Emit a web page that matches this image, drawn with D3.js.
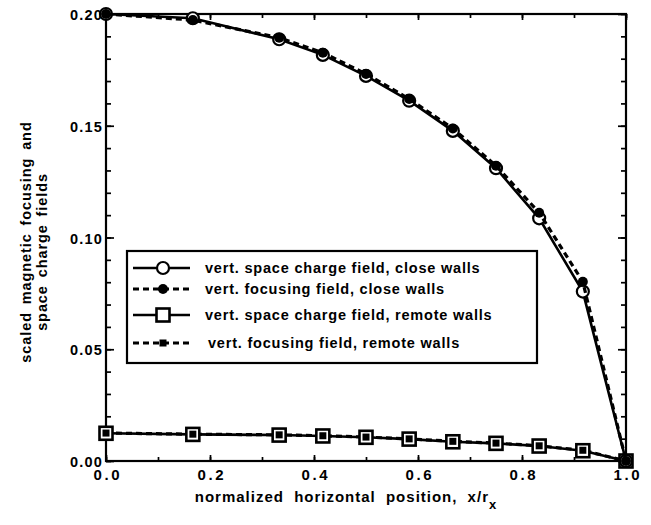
<!DOCTYPE html>
<html>
<head>
<meta charset="utf-8">
<script src="https://cdn.jsdelivr.net/npm/d3@7"></script>
<style>
  html, body { margin: 0; padding: 0; background: #fff; }
  svg { display: block; }
  text { font-family: "Liberation Sans", Arial, Helvetica, sans-serif; font-weight: bold; fill: #000; }
</style>
</head>
<body>
<svg id="chart" width="651" height="525"></svg>
<script>
// Normalized horizontal position x/r_x of each computed point
const xPositions = [0, 0.167, 0.333, 0.417, 0.5, 0.583, 0.667, 0.75, 0.833, 0.917, 1.0];

// Scaled field values
const spaceChargeClose = [0.200, 0.1981, 0.1887, 0.1817, 0.1723, 0.1612, 0.1477, 0.1310, 0.1086, 0.0758, 0];
const focusingClose    = [0.200, 0.1973, 0.1894, 0.1827, 0.1732, 0.1620, 0.1488, 0.1321, 0.1111, 0.0802, 0];
const spaceChargeRemote = [0.0124, 0.0119, 0.0116, 0.0112, 0.0106, 0.0098, 0.0086, 0.0079, 0.0067, 0.0046, 0];
const focusingRemote    = [0.0125, 0.0120, 0.0117, 0.0113, 0.0107, 0.0099, 0.0088, 0.0080, 0.0068, 0.0048, 0];

// Axis ticks
const xTickLabels = [0, 0.2, 0.4, 0.6, 0.8, 1.0];
const yTickLabels = [0, 0.05, 0.10, 0.15, 0.20];

const legendLabels = [
  "vert. space charge field, close walls",
  "vert. focusing field, close walls",
  "vert. space charge field, remote walls",
  "vert. focusing field, remote walls"
];

const svg = d3.select("#chart");
const plotLeft = 106, plotRight = 626, plotTop = 14, plotBottom = 461;

const x = d3.scaleLinear().domain([0, 1]).range([plotLeft, plotRight]);
const y = d3.scaleLinear().domain([0, 0.2]).range([plotBottom, plotTop]);

// Inward ticks on all four sides
function tickAxis(axisFn, scale, values, size, transform) {
  const g = svg.append("g").attr("transform", transform)
    .call(axisFn(scale).tickValues(values).tickSize(size).tickFormat(""));
  g.select(".domain").remove();
  g.selectAll("line").attr("stroke", "#000").attr("stroke-width", 1.7);
}
const yMinor = d3.range(0, 21).map(i => i / 100);
const xMinor = d3.range(0, 11).map(i => i / 10);
tickAxis(d3.axisLeft, y, yMinor, -5, `translate(${plotLeft},0)`);
tickAxis(d3.axisLeft, y, yTickLabels, -8, `translate(${plotLeft},0)`);
tickAxis(d3.axisRight, y, yMinor, -5, `translate(${plotRight},0)`);
tickAxis(d3.axisRight, y, yTickLabels, -8, `translate(${plotRight},0)`);
tickAxis(d3.axisBottom, x, xMinor, -4, `translate(0,${plotBottom})`);
tickAxis(d3.axisBottom, x, xTickLabels, -6, `translate(0,${plotBottom})`);
tickAxis(d3.axisTop, x, xMinor, -4, `translate(0,${plotTop})`);
tickAxis(d3.axisTop, x, xTickLabels, -6, `translate(0,${plotTop})`);

// Plot frame
svg.append("rect")
  .attr("x", plotLeft).attr("y", plotTop)
  .attr("width", plotRight - plotLeft).attr("height", plotBottom - plotTop)
  .attr("fill", "none").attr("stroke", "#000").attr("stroke-width", 2.2);

// Tick labels
const yLab = svg.append("g").attr("transform", `translate(${plotLeft - 3},1)`)
  .call(d3.axisLeft(y).tickValues(yTickLabels).tickSize(0).tickPadding(0).tickFormat(d3.format(".2f")));
yLab.select(".domain").remove();
yLab.selectAll("text").attr("font-size", 14.5).attr("letter-spacing", 1.2)
  .attr("font-family", "Liberation Sans, Arial, sans-serif").attr("font-weight", "bold");

const xLab = svg.append("g").attr("transform", `translate(0,${plotBottom + 8})`)
  .call(d3.axisBottom(x).tickValues(xTickLabels).tickSize(0).tickPadding(0).tickFormat(d3.format(".1f")));
xLab.select(".domain").remove();
xLab.selectAll("text").attr("font-size", 15).attr("letter-spacing", 2.6).attr("dx", "1.3")
  .attr("font-family", "Liberation Sans, Arial, sans-serif").attr("font-weight", "bold");

// Axis titles
const xTitle = svg.append("text")
  .attr("x", 346).attr("y", 502)
  .attr("text-anchor", "middle")
  .attr("font-size", 15).attr("letter-spacing", 1).attr("word-spacing", 5);
xTitle.append("tspan").text("normalized horizontal position, x/r");
xTitle.append("tspan").attr("dy", 7).attr("font-size", 13).text("x");

svg.append("text")
  .attr("transform", "translate(31,242) rotate(-90)")
  .attr("text-anchor", "middle")
  .attr("font-size", 14.5).attr("letter-spacing", 0.9).attr("word-spacing", 3)
  .text("scaled magnetic focusing and");
svg.append("text")
  .attr("transform", "translate(47,252) rotate(-90)")
  .attr("text-anchor", "middle")
  .attr("font-size", 14.5).attr("letter-spacing", 0.9).attr("word-spacing", 3)
  .text("space charge fields");

// Series
const line = d3.line().x(d => x(d[0])).y(d => y(d[1]));
const pts = vals => xPositions.map((xv, i) => [xv, vals[i]]);

function drawLine(vals, dashed) {
  svg.append("path")
    .attr("d", line(pts(vals)))
    .attr("fill", "none").attr("stroke", "#000")
    .attr("stroke-width", dashed ? 3.2 : 2.6)
    .attr("stroke-dasharray", dashed ? "6,4" : null);
}

const markers = {
  openCircle: (g, cx, cy) => g.append("circle").attr("cx", cx).attr("cy", cy).attr("r", 6)
    .attr("fill", "#fff").attr("stroke", "#000").attr("stroke-width", 2.2),
  filledCircle: (g, cx, cy) => g.append("circle").attr("cx", cx).attr("cy", cy).attr("r", 5)
    .attr("fill", "#000"),
  openSquare: (g, cx, cy) => g.append("rect").attr("x", cx - 6.5).attr("y", cy - 6.5)
    .attr("width", 13).attr("height", 13)
    .attr("fill", "#fff").attr("stroke", "#000").attr("stroke-width", 2.6),
  filledSquare: (g, cx, cy) => g.append("rect").attr("x", cx - 3.5).attr("y", cy - 3.5)
    .attr("width", 7).attr("height", 7).attr("fill", "#000")
};

function drawMarkers(vals, kind) {
  const g = svg.append("g");
  pts(vals).forEach(p => markers[kind](g, x(p[0]), y(p[1])));
}

drawLine(spaceChargeRemote, false);
drawLine(focusingRemote, true);
drawMarkers(spaceChargeRemote, "openSquare");
drawMarkers(focusingRemote, "filledSquare");

drawLine(spaceChargeClose, false);
drawMarkers(spaceChargeClose, "openCircle");
drawLine(focusingClose, true);
drawMarkers(focusingClose, "filledCircle");

// Legend
const lg = svg.append("g");
lg.append("rect").attr("x", 127).attr("y", 251).attr("width", 410).attr("height", 112)
  .attr("fill", "#fff").attr("stroke", "#000").attr("stroke-width", 2.2);
const legendRows = [
  { y: 268, dashed: false, kind: "openCircle", tx: 205 },
  { y: 289, dashed: true, kind: "filledCircle", tx: 205 },
  { y: 315, dashed: false, kind: "openSquare", tx: 205 },
  { y: 343, dashed: true, kind: "filledSquare", tx: 208 }
];
legendRows.forEach((r, i) => {
  lg.append("line").attr("x1", 133).attr("x2", 190).attr("y1", r.y).attr("y2", r.y)
    .attr("stroke", "#000").attr("stroke-width", r.dashed ? 3.2 : 2.6)
    .attr("stroke-dasharray", r.dashed ? "6,4" : null);
  markers[r.kind](lg, 163, r.y);
  lg.append("text").attr("x", r.tx).attr("y", r.y + 5)
    .attr("font-size", 14.5).attr("letter-spacing", 0.8)
    .text(legendLabels[i]);
});
</script>
</body>
</html>
